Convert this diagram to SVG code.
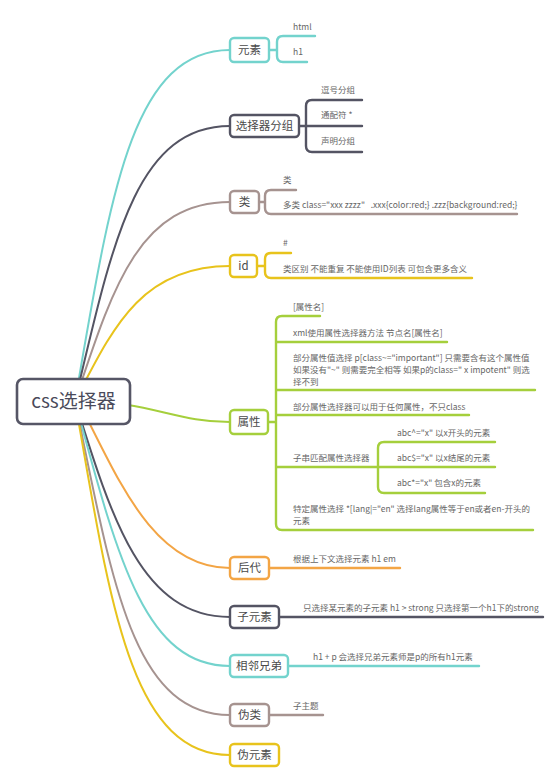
<svg xmlns="http://www.w3.org/2000/svg" width="559" height="782" viewBox="0 0 559 782">
<style>
.c{fill:none;stroke-width:2;stroke-linecap:round}
.b{fill:none;stroke-width:2.4;stroke-linecap:round;stroke-linejoin:round}
.box{fill:#fff;stroke-width:2.4}
.nt{font-family:"Noto Sans CJK SC","Noto Sans",sans-serif;font-size:11.5px;fill:#4a4a4a;text-anchor:middle}
.t{font-family:"Noto Sans CJK SC","Noto Sans",sans-serif;font-size:8.5px;fill:#666}
.teal{stroke:#73d3cd}.dark{stroke:#545463}.taupe{stroke:#a69390}.yel{stroke:#e8c31c}.grn{stroke:#a5cf3c}.org{stroke:#f3a545}
</style>
<rect width="559" height="782" fill="#fff"/>
<g id="connectors">
<path class="c teal" d="M75,401 C110,200 130,50 230,50"/>
<path class="c dark" d="M75,401 C112,245 135,126 230,126"/>
<path class="c taupe" d="M75,401 C112,290 138,202 230,202"/>
<path class="c yel" d="M75,401 C112,330 140,266 230,266"/>
<path class="c grn" d="M75,401 C150,401 175,422 230,422"/>
<path class="c org" d="M78,401 C115,470 150,568 230,568"/>
<path class="c dark" d="M75,401 C112,520 142,617 230,617"/>
<path class="c teal" d="M75,401 C118,560 145,666 230,666"/>
<path class="c taupe" d="M75,401 C112,580 132,715 230,715"/>
<path class="c yel" d="M75,401 C110,602 130,755 230,755"/>
</g>
<g id="root">
<rect x="17" y="379" width="113" height="45" rx="6" fill="#fff" stroke="#565666" stroke-width="2.6"/>
<text x="73.5" y="408" font-family="&quot;Noto Sans CJK SC&quot;,sans-serif" font-size="19" fill="#4a4a5a" text-anchor="middle">css选择器</text>
</g>
<g id="n-yuansu">
<path class="b teal" d="M269,50 H277 M315,36 H283 Q277,36 277,42 V56 Q277,62 283,62 H307"/>
<rect class="box teal" x="230" y="38" width="39" height="24" rx="4"/>
<text class="nt" x="249.5" y="54">元素</text>
<text class="t" x="293" y="30">html</text>
<text class="t" x="293" y="55">h1</text>
</g>
<g id="n-group">
<path class="b dark" d="M299,126 H362 M362,100 H312 Q306,100 306,106 V146 Q306,152 312,152 H362"/>
<rect class="box dark" x="230" y="115" width="69" height="22" rx="4"/>
<text class="nt" x="264.5" y="130">选择器分组</text>
<text class="t" x="321" y="93">逗号分组</text>
<text class="t" x="321" y="118">通配符 *</text>
<text class="t" x="321" y="144">声明分组</text>
</g>
<g id="n-class">
<path class="b taupe" d="M259,202 H265 M296,190 H271 Q265,190 265,196 V208 Q265,214 271,214 H517"/>
<rect class="box taupe" x="230" y="191" width="29" height="22" rx="4"/>
<text class="nt" x="244.5" y="206">类</text>
<text class="t" x="283" y="183">类</text>
<text class="t" x="283" y="208" xml:space="preserve">多类 class="xxx zzzz"   .xxx{color:red;} .zzz{background:red;}</text>
</g>
<g id="n-id">
<path class="b yel" d="M257,266 H265 M291,253 H271 Q265,253 265,259 V272 Q265,278 271,278 H472"/>
<rect class="box yel" x="230" y="255" width="27" height="22" rx="4"/>
<text class="nt" x="243.5" y="270">id</text>
<text class="t" x="283" y="246">#</text>
<text class="t" x="283" y="272">类区别 不能重复 不能使用ID列表 可包含更多含义</text>
</g>
<g id="n-attr">
<path class="b grn" d="M268,422 H276 M320,316 H282 Q276,316 276,322 V524 Q276,530 282,530 H533 M276,342 H447 M276,390 H535 M276,415 H469 M276,467 H495 M495,442 H384 Q378,442 378,448 V487 Q378,493 384,493 H485"/>
<rect class="box grn" x="230" y="410" width="38" height="24" rx="4"/>
<text class="nt" x="249" y="426">属性</text>
<text class="t" x="293" y="310">[属性名]</text>
<text class="t" x="293" y="336">xml使用属性选择器方法 节点名[属性名]</text>
<text class="t" x="293" y="361">部分属性值选择 p[class~="important"] 只需要含有这个属性值</text>
<text class="t" x="293" y="373">如果没有"~" 则需要完全相等 如果p的class=" x impotent" 则选</text>
<text class="t" x="293" y="385">择不到</text>
<text class="t" x="293" y="410">部分属性选择器可以用于任何属性，不只class</text>
<text class="t" x="293" y="461">子串匹配属性选择器</text>
<text class="t" x="397" y="436">abc^="x" 以x开头的元素</text>
<text class="t" x="397" y="461">abc$="x" 以x结尾的元素</text>
<text class="t" x="397" y="486">abc*="x" 包含x的元素</text>
<text class="t" x="293" y="512">特定属性选择 *[lang|="en" 选择lang属性等于en或者en-开头的</text>
<text class="t" x="293" y="524">元素</text>
</g>
<g id="n-houdai">
<path class="b org" d="M269,568 H400"/>
<rect class="box org" x="230" y="557" width="39" height="22" rx="4"/>
<text class="nt" x="249.5" y="572">后代</text>
<text class="t" x="293" y="562">根据上下文选择元素 h1 em</text>
</g>
<g id="n-child">
<path class="b dark" d="M279,617 H543"/>
<rect class="box dark" x="230" y="606" width="49" height="22" rx="4"/>
<text class="nt" x="254.5" y="621">子元素</text>
<text class="t" x="303" y="611">只选择某元素的子元素 h1 &gt; strong 只选择第一个h1下的strong</text>
</g>
<g id="n-sibling">
<path class="b teal" d="M288,666 H479"/>
<rect class="box teal" x="230" y="655" width="58" height="22" rx="4"/>
<text class="nt" x="259" y="670">相邻兄弟</text>
<text class="t" x="313" y="660">h1 + p 会选择兄弟元素师是p的所有h1元素</text>
</g>
<g id="n-pseudoclass">
<path class="b taupe" d="M269,715 H323"/>
<rect class="box taupe" x="230" y="704" width="39" height="22" rx="4"/>
<text class="nt" x="249.5" y="719">伪类</text>
<text class="t" x="293" y="709">子主题</text>
</g>
<g id="n-pseudoel">
<rect class="box yel" x="230" y="744" width="49" height="22" rx="4"/>
<text class="nt" x="254.5" y="759">伪元素</text>
</g>
</svg>
